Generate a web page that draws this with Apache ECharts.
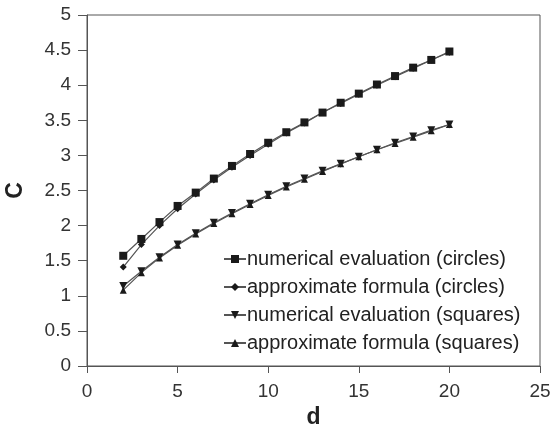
<!DOCTYPE html>
<html><head><meta charset="utf-8">
<script src="https://cdn.jsdelivr.net/npm/echarts@6/dist/echarts.min.js"></script>
<style>html,body{margin:0;padding:0;background:#fff}#c{width:551px;height:429px}</style>
</head><body><div id="c"></div>
<script>
var d = [2,3,4,5,6,7,8,9,10,11,12,13,14,15,16,17,18,19,20];
var numCircles = [1.57,1.81,2.05,2.28,2.47,2.67,2.85,3.02,3.18,3.33,3.47,3.61,3.75,3.88,4.01,4.13,4.25,4.36,4.48];
var apxCircles = [1.41,1.73,2.00,2.24,2.45,2.65,2.83,3.00,3.16,3.32,3.46,3.61,3.74,3.87,4.00,4.12,4.24,4.36,4.47];
var numSquares = [1.14,1.35,1.55,1.73,1.89,2.04,2.18,2.31,2.44,2.56,2.67,2.78,2.88,2.98,3.08,3.18,3.27,3.36,3.44];
var apxSquares = [1.08,1.33,1.54,1.72,1.88,2.03,2.17,2.30,2.43,2.55,2.66,2.77,2.88,2.98,3.08,3.17,3.26,3.35,3.44];
var names = ['numerical evaluation (circles)','approximate formula (circles)','numerical evaluation (squares)','approximate formula (squares)'];

function pairs(ys){ return d.map(function(x,i){ return [x, ys[i]]; }); }
var font = 'Liberation Sans, Arial, sans-serif';
function mk(name, ys, sym, size, rot, z){
  return {
    name: name, type: 'line', data: pairs(ys), symbol: sym, symbolSize: size, symbolRotate: rot,
    lineStyle: {color: '#555', width: 1.2}, itemStyle: {color: '#1a1a1a', borderWidth: 0},
    z: z, animation: false
  };
}
var chart = echarts.init(document.getElementById('c'));
chart.setOption({
  animation: false,
  grid: {left: 87, right: 11, top: 15, bottom: 63, outerBoundsMode: 'none', containLabel: false,
    show: true, borderColor: '#555', borderWidth: 1, backgroundColor: 'transparent'},
  xAxis: {type: 'value', min: 0, max: 25, interval: 5,
    name: 'd', nameLocation: 'middle', nameGap: 39,
    nameTextStyle: {fontFamily: font, fontSize: 23, fontWeight: 'bold', color: '#222'},
    axisLine: {lineStyle: {color: '#555', width: 1}},
    axisTick: {show: true, length: 7, lineStyle: {color: '#555'}},
    axisLabel: {fontFamily: font, fontSize: 19, color: '#333', margin: 16},
    splitLine: {show: false}},
  yAxis: {type: 'value', min: 0, max: 5, interval: 0.5,
    name: 'C', nameLocation: 'middle', nameGap: 60, nameRotate: 90,
    nameTextStyle: {fontFamily: font, fontSize: 23, fontWeight: 'bold', color: '#222'},
    axisLine: {show: true, lineStyle: {color: '#555', width: 1}},
    axisTick: {show: true, length: 9, lineStyle: {color: '#555'}},
    axisLabel: {fontFamily: font, fontSize: 19, color: '#333', margin: 16},
    splitLine: {show: false}},
  legend: {orient: 'vertical', left: 223, top: 249, padding: 0, itemGap: 8, itemWidth: 22, itemHeight: 10,
    textStyle: {fontFamily: font, fontSize: 20, color: '#222', padding: [0,0,0,-4]},
    data: names},
  series: [
    mk(names[0], numCircles, 'rect', 8, 0, 4),
    mk(names[1], apxCircles, 'diamond', 7, 0, 3),
    mk(names[2], numSquares, 'triangle', 8, 180, 2),
    mk(names[3], apxSquares, 'triangle', 7, 0, 1)
  ]
});
</script></body></html>
